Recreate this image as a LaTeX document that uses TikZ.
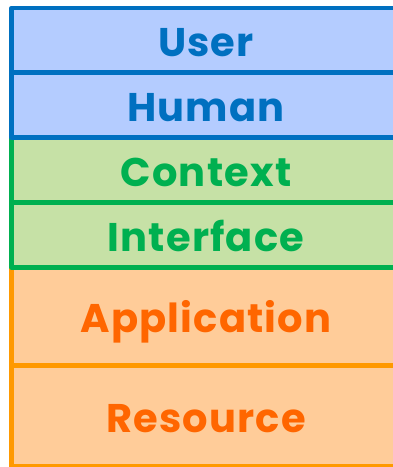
\documentclass[tikz,border=0pt]{standalone}
\usepackage{fontspec}
\setmainfont{Poppins}[BoldFont=* Bold, LetterSpace=3]
\usetikzlibrary{positioning}

\definecolor{userline}{HTML}{0070C0}
\definecolor{userfill}{HTML}{B4CCFF}
\definecolor{ctxline}{HTML}{00B050}
\definecolor{ctxfill}{HTML}{C6E1A6}
\definecolor{appline}{HTML}{FF9900}
\definecolor{appfill}{HTML}{FFCC99}
\definecolor{apptext}{HTML}{FF6600}

\begin{document}
\begin{tikzpicture}[x=1pt, y=1pt, node distance = 0pt,
  nodes = {draw, line width=4.5pt, outer sep=0pt, line join=round,
    minimum width=389pt, text height=32pt, text depth=0pt,
    font=\fontsize{40}{48}\selectfont\bfseries},
  userlayer/.style = {draw=userline, fill=userfill, text=userline},
  ctxlayer/.style = {draw=ctxline, fill=ctxfill, text=ctxline},
  applayer/.style = {draw=appline, fill=appfill, text=apptext}
  ]
  \useasboundingbox (0,0) rectangle (393,-467);
  \clip (0,0) rectangle (393,-467);
  % bottom to top, so the upper border lies on top
  \node (resource) [applayer, minimum height=101pt, anchor=south west]
    at (11.5,-466.5) {Resource};
  \node (application) [applayer, minimum height=98pt, above=of resource] {Application};
  \node (interface) [ctxlayer, minimum height=65pt, above=of application] {Interface};
  \node (context) [ctxlayer, minimum height=65pt, above=of interface] {Context};
  \node (human) [userlayer, minimum height=65pt, above=of context] {Human};
  \node (user) [userlayer, minimum height=64.5pt, above=of human] {User};
\end{tikzpicture}
\end{document}
